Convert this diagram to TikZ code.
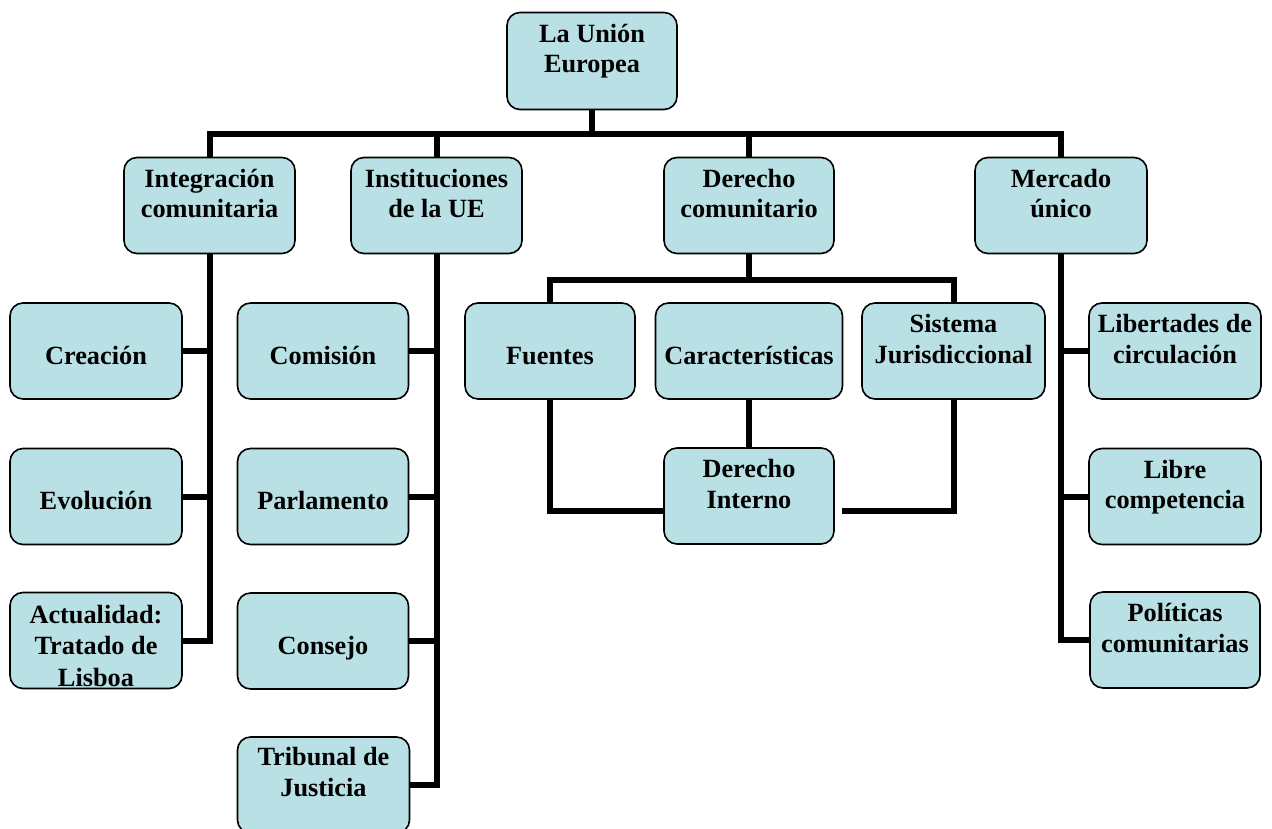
\documentclass[tikz,border=0pt]{standalone}
\usepackage{fontspec}
\setmainfont{Liberation Serif}
\definecolor{boxfill}{RGB}{185,224,228}
\begin{document}
\begin{tikzpicture}[x=1pt,y=-1pt,
  box/.style={draw=black, line width=1.6pt, fill=boxfill, rounded corners=13pt,
    minimum width=171pt, minimum height=96pt, inner sep=0pt},
  conn/.style={draw=black, line width=6pt, line join=miter},
  txt/.style={inner sep=0pt, align=center, font=\bfseries\fontsize{26.3}{30.5}\selectfont},
  ml/.style={txt, anchor=north},
  sl/.style={txt, anchor=base}]
\clip (0,0) rectangle (1272,829);
\fill[white] (0,0) rectangle (1272,829);

% connector levels
\coordinate (bus) at (592,134);
\coordinate (sub) at (749,280);

% boxes
\node[box, minimum width=170pt, minimum height=97pt] (top) at (592,61) {};
\node[box] (integ) at (209.5,205.5) {};
\node[box] (inst)  at (436.5,205.5) {};
\node[box, minimum width=170pt] (der) at (749,205.5) {};
\node[box, minimum width=172pt] (merc) at (1061,205.5) {};

\node[box, minimum width=172pt] (crea) at (96,351) {};
\node[box, minimum width=172pt] (evol) at (96,496.5) {};
\node[box, minimum width=172pt] (actu) at (96,640.5) {};

\node[box] (comi) at (323,351) {};
\node[box] (parl) at (323,496.5) {};
\node[box] (cons) at (323,641) {};
\node[box, minimum width=172pt] (trib) at (323.5,785) {};

\node[box, minimum width=170pt] (fuen) at (550,351) {};
\node[box, minimum width=187pt] (cara) at (749,351) {};
\node[box, minimum width=183pt] (sist) at (953.5,351) {};
\node[box, minimum width=170pt] (inte) at (749,496) {};

\node[box, minimum width=172pt] (libe) at (1175,351) {};
\node[box, minimum width=172pt] (libr) at (1175,496.5) {};
\node[box, minimum width=170pt] (poli) at (1175,640) {};

% connectors
\draw[conn] (top.south) -- (bus);
\draw[conn] (integ.north) |- (bus) -| (merc.north);
\draw[conn] (inst.north) -- (inst.north |- bus);
\draw[conn] (der.north) -- (der.north |- bus);

\draw[conn] (integ.south) |- (actu.east);
\draw[conn] (crea.east) -- (crea.east -| integ.south);
\draw[conn] (evol.east) -- (evol.east -| integ.south);

\draw[conn] (inst.south) |- (trib.east);
\draw[conn] (comi.east) -- (comi.east -| inst.south);
\draw[conn] (parl.east) -- (parl.east -| inst.south);
\draw[conn] (cons.east) -- (cons.east -| inst.south);

\draw[conn] (der.south) -- (sub);
\draw[conn] (fuen.north) |- (sub) -| (sist.north);
\draw[conn] (cara.south) -- (inte.north);
\coordinate (jr) at ([xshift=7pt,yshift=-15pt]inte.east);
\draw[conn] (fuen.south) |- ([yshift=-15pt]inte.west);
\draw[conn] (sist.south) |- (jr);

\draw[conn] (merc.south) |- (poli.west);
\draw[conn] (libe.west) -- (libe.west -| merc.south);
\draw[conn] (libr.west) -- (libr.west -| merc.south);

% texts
\node[ml] (top-t) at ([yshift=-9pt]top.north) {\strut La Unión\\Europea};
\node[ml] (integ-t) at ([yshift=-9pt]integ.north) {\strut Integración\\comunitaria};
\node[ml] (inst-t) at ([yshift=-9pt]inst.north) {\strut Instituciones\\de la UE};
\node[ml] (der-t) at ([yshift=-9pt]der.north) {\strut Derecho\\comunitario};
\node[ml] (merc-t) at ([yshift=-9pt]merc.north) {\strut Mercado\\único};

\node[sl] (crea-t) at ([yshift=-62pt]crea.north) {Creación};
\node[sl] (evol-t) at ([yshift=-62pt]evol.north) {Evolución};
\begin{scope}
  \clip[rounded corners=12pt] ([xshift=1pt,yshift=-1pt]actu.north west) rectangle ([xshift=-1pt,yshift=1pt]actu.south east);
  \node[ml, font=\bfseries\fontsize{26.3}{31.5}\selectfont] (actu-t) at ([yshift=-9.5pt]actu.north) {\strut Actualidad:\\Tratado de\\Lisboa};
\end{scope}

\node[sl] (comi-t) at ([yshift=-62pt]comi.north) {Comisión};
\node[sl] (parl-t) at ([yshift=-62pt]parl.north) {Parlamento};
\node[sl] (cons-t) at ([yshift=-62pt]cons.north) {Consejo};
\node[ml] (trib-t) at ([yshift=-8pt]trib.north) {\strut Tribunal de\\Justicia};

\node[sl] (fuen-t) at ([yshift=-62pt]fuen.north) {Fuentes};
\node[sl] (cara-t) at ([yshift=-62pt]cara.north) {Características};
\node[ml] (sist-t) at ([yshift=-9pt]sist.north) {\strut Sistema\\Jurisdiccional};
\node[ml] (inte-t) at ([yshift=-9pt]inte.north) {\strut Derecho\\Interno};

\node[ml] (libe-t) at ([yshift=-9pt]libe.north) {\strut Libertades de\\circulación};
\node[ml] (libr-t) at ([yshift=-9pt]libr.north) {\strut Libre\\competencia};
\node[ml] (poli-t) at ([yshift=-9pt]poli.north) {\strut Políticas\\comunitarias};
\end{tikzpicture}
\end{document}
